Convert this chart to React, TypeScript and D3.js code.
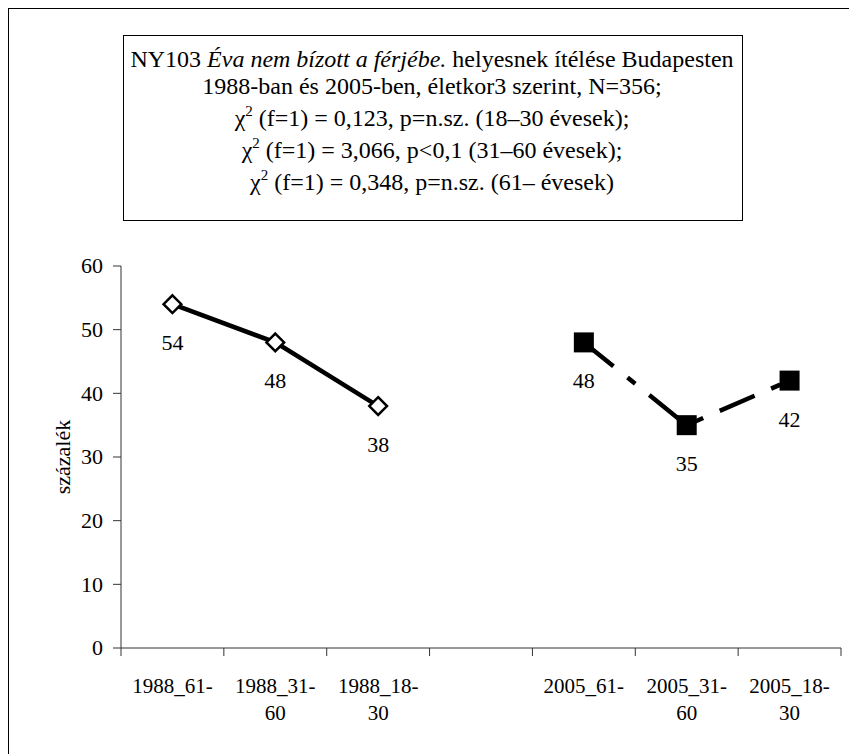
import * as d3 from 'd3';

// categories (the empty one is the gap between the two surveys)
const categories = ['1988_61', '1988_31', '1988_18', 'gap', '2005_61', '2005_31', '2005_18'];
const catLabels: string[][] = [
  ['1988_61-'], ['1988_31-', '60'], ['1988_18-', '30'], [],
  ['2005_61-'], ['2005_31-', '60'], ['2005_18-', '30'],
];
const cats1988 = ['1988_61', '1988_31', '1988_18'];
const vals1988 = [54, 48, 38];
const cats2005 = ['2005_61', '2005_31', '2005_18'];
const vals2005 = [48, 35, 42];
const yTicks = [0, 10, 20, 30, 40, 50, 60];

const titleLine1 = ['NY103 ', 'Éva nem bízott a férjébe.', ' helyesnek ítélése Budapesten'];
const titleLine2 = '1988-ban és 2005-ben, életkor3 szerint, N=356;';
const chiLines = [
  ' (f=1) = 0,123, p=n.sz. (18–30 évesek);',
  ' (f=1) = 3,066, p<0,1 (31–60 évesek);',
  ' (f=1) = 0,348, p=n.sz. (61– évesek)',
];

const W = 849;
const H = 754;
const serif = "'Liberation Serif', 'Times New Roman', serif";

export default function App() {
  const x = d3.scaleBand<string>().domain(categories).range([121, 841]).padding(0);
  const y = d3.scaleLinear().domain([0, 60]).range([648, 266]);
  const cx = (c: string) => (x(c) ?? 0) + x.bandwidth() / 2;

  const line = d3.line<[number, number]>().x(d => d[0]).y(d => d[1]);
  const pts1988: [number, number][] = cats1988.map((c, i) => [cx(c), y(vals1988[i])]);
  const pts2005: [number, number][] = cats2005.map((c, i) => [cx(c), y(vals2005[i])]);

  const diamond = d3.symbol().type(d3.symbolDiamond2).size(200)();
  const tickXs = categories.map(c => x(c) ?? 0).concat([x.range()[1]]);

  // title box text: plain lines, then the taller chi-square lines (superscripts push them apart)
  const titleX = 432;
  const t0 = 67;
  const lh = 27;
  const lhChi = 32;
  const tfs = 24;
  const fs = 22;

  return (
    <svg width={W} height={H} style={{ position: 'absolute', left: 0, top: 0, background: '#fff', fontFamily: serif }}>
      {/* outer frame */}
      <rect x={8.5} y={8.5} width={900} height={800} fill="none" stroke="#000" strokeWidth={1} />

      {/* title box */}
      <rect x={123.5} y={35.5} width={619} height={185} fill="#fff" stroke="#000" strokeWidth={1} />
      <g fontSize={tfs} textAnchor="middle" fill="#000">
        <text x={titleX} y={t0}>
          <tspan>{titleLine1[0]}</tspan>
          <tspan fontStyle="italic">{titleLine1[1]}</tspan>
          <tspan>{titleLine1[2]}</tspan>
        </text>
        <text x={titleX} y={t0 + lh}>{titleLine2}</text>
        {chiLines.map((s, i) => (
          <text key={i} x={titleX} y={t0 + lh + lhChi * (i + 1)}>
            <tspan>χ</tspan>
            <tspan fontSize={15} dy={-10}>2</tspan>
            <tspan dy={10}>{s}</tspan>
          </text>
        ))}
      </g>

      {/* y axis */}
      <line x1={121} x2={121} y1={y(60)} y2={y(0)} stroke="#333" />
      {yTicks.map(t => (
        <g key={t}>
          <line x1={113} x2={121} y1={y(t)} y2={y(t)} stroke="#333" />
          <text x={103} y={y(t)} dy="0.34em" textAnchor="end" fontSize={fs}>{t}</text>
        </g>
      ))}
      <text transform={`translate(70,${(y(0) + y(60)) / 2}) rotate(-90)`} textAnchor="middle"
        fontSize={fs}>százalék</text>

      {/* x axis */}
      <line x1={121} x2={841} y1={y(0)} y2={y(0)} stroke="#333" />
      {tickXs.map((tx, i) => (
        <line key={i} x1={tx} x2={tx} y1={y(0)} y2={y(0) + 8} stroke="#333" />
      ))}
      {categories.map((c, i) => (
        <text key={c} x={cx(c)} y={693} textAnchor="middle" fontSize={21}>
          {catLabels[i].map((l, j) => (
            <tspan key={j} x={cx(c)} dy={j === 0 ? 0 : 27}>{l}</tspan>
          ))}
        </text>
      ))}

      {/* 1988 series */}
      <path d={line(pts1988) ?? ''} fill="none" stroke="#000" strokeWidth={4.5} />
      {pts1988.map((p, i) => (
        <path key={i} d={diamond ?? ''} transform={`translate(${p[0]},${p[1]})`}
          fill="#fff" stroke="#000" strokeWidth={2.5} />
      ))}
      {pts1988.map((p, i) => (
        <text key={i} x={p[0]} y={p[1] + 46} textAnchor="middle" fontSize={fs}>{vals1988[i]}</text>
      ))}

      {/* 2005 series */}
      <path d={line(pts2005) ?? ''} fill="none" stroke="#000" strokeWidth={4.5}
        strokeDasharray="38,18,10,18" />
      {pts2005.map((p, i) => (
        <rect key={i} x={p[0] - 10} y={p[1] - 10} width={20} height={20} fill="#000" />
      ))}
      {pts2005.map((p, i) => (
        <text key={i} x={p[0]} y={p[1] + 46} textAnchor="middle" fontSize={fs}>{vals2005[i]}</text>
      ))}
    </svg>
  );
}
